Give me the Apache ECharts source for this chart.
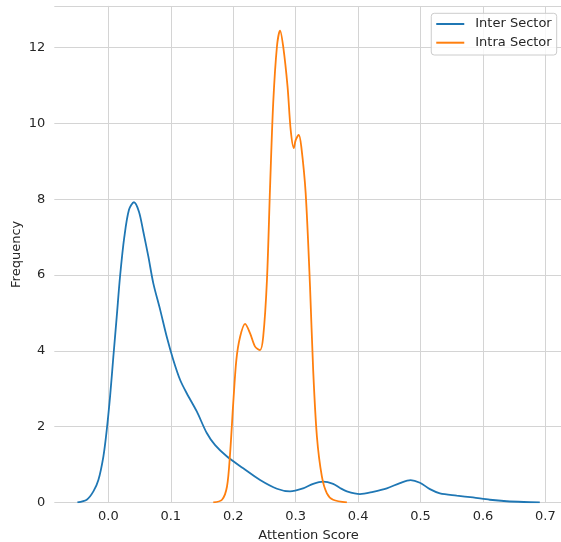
<!DOCTYPE html>
<html>
<head>
<meta charset="utf-8">
<script src="https://cdn.jsdelivr.net/npm/echarts@6/dist/echarts.min.js"></script>
<style>
html,body{margin:0;padding:0;background:#fff;}
#chart{width:561px;height:542px;}
</style>
</head>
<body>
<div id="chart"></div>
<script>
// Series names
var seriesNames = ['Inter Sector', 'Intra Sector'];

// Inter Sector KDE curve (Attention Score, Frequency)
var interX = [-0.0496, -0.0346, -0.024, -0.016, -0.008, -0.0026, 0.0027, 0.008, 0.0134, 0.0187,
  0.0256, 0.033, 0.041, 0.049, 0.056, 0.064, 0.072, 0.083, 0.0935, 0.104,
  0.115, 0.1255, 0.1416, 0.1576, 0.171, 0.19, 0.216, 0.243, 0.27, 0.291,
  0.312, 0.328, 0.344, 0.36, 0.371, 0.382, 0.403, 0.424, 0.446, 0.467,
  0.484, 0.499, 0.515, 0.531, 0.558, 0.584, 0.611, 0.638, 0.665, 0.691];
var interY = [0.0, 0.07, 0.29, 0.59, 1.21, 1.91, 2.79, 3.85, 4.9, 5.96,
  7.01, 7.72, 7.92, 7.67, 7.14, 6.49, 5.78, 5.08, 4.37, 3.76,
  3.23, 2.88, 2.4, 1.83, 1.51, 1.21, 0.9, 0.59, 0.36, 0.29,
  0.37, 0.49, 0.55, 0.49, 0.38, 0.29, 0.22, 0.28, 0.37, 0.51,
  0.59, 0.52, 0.35, 0.24, 0.18, 0.13, 0.07, 0.03, 0.01, 0.0];

// Intra Sector KDE curve
var intraX = [0.168, 0.182, 0.19, 0.195, 0.2, 0.205, 0.211, 0.219, 0.227, 0.235,
  0.243, 0.248, 0.254, 0.259, 0.264, 0.27, 0.275, 0.28, 0.287, 0.292,
  0.297, 0.3, 0.305, 0.309, 0.316, 0.323, 0.328, 0.334, 0.342, 0.35,
  0.36, 0.382];
var intraY = [0.0, 0.07, 0.42, 1.3, 2.62, 3.76, 4.37, 4.71, 4.46, 4.11,
  4.02, 4.37, 5.87, 8.33, 10.53, 12.03, 12.45, 12.03, 10.97, 9.83,
  9.35, 9.56, 9.7, 9.39, 8.16, 5.69, 3.5, 1.74, 0.68, 0.24,
  0.07, 0.0];

// Axis ticks
var xTicks = [0.0, 0.1, 0.2, 0.3, 0.4, 0.5, 0.6, 0.7];
var yTicks = [0, 2, 4, 6, 8, 10, 12];

function pairs(xs, ys) {
  var out = [];
  for (var i = 0; i < xs.length; i++) out.push([xs[i], ys[i]]);
  return out;
}

var textColor = '#262626';
var gridColor = '#d4d4d4';
var font = 'DejaVu Sans';
var lineIcon = 'path://M0,0H28V2H0Z';

var chart = echarts.init(document.getElementById('chart'), null, {renderer: 'canvas'});
chart.setOption({
  animation: false,
  backgroundColor: '#ffffff',
  grid: {left: 54.3, top: 6.3, width: 508.6, height: 496.1, containLabel: false, outerBoundsMode: 'none'},
  legend: {
    orient: 'vertical',
    right: 4.3,
    top: 13.3,
    data: [{name: seriesNames[0], icon: lineIcon}, {name: seriesNames[1], icon: lineIcon}],
    itemWidth: 28,
    itemHeight: 14,
    itemGap: 4.7,
    symbolKeepAspect: true,
    padding: [3.7, 5, 5.3, 5],
    backgroundColor: 'rgba(255,255,255,0.8)',
    borderColor: '#cccccc',
    borderWidth: 1,
    borderRadius: 3,
    textStyle: {color: textColor, fontFamily: font, fontSize: 13, lineHeight: 14, padding: [0, 0, 0, 6]}
  },
  xAxis: {
    type: 'value',
    min: -0.0866,
    max: 0.728,
    name: 'Attention Score',
    nameLocation: 'middle',
    nameGap: 27,
    nameMoveOverlap: false,
    nameTextStyle: {color: textColor, fontFamily: font, fontSize: 13},
    axisLine: {show: false},
    axisTick: {show: false, customValues: xTicks},
    axisLabel: {
      customValues: xTicks,
      color: textColor, fontFamily: font, fontSize: 13, margin: 8,
      formatter: function (v) { return v.toFixed(1); }
    },
    splitLine: {show: true, lineStyle: {color: gridColor, width: 1}}
  },
  yAxis: {
    type: 'value',
    min: 0,
    max: 13.09,
    name: 'Frequency',
    nameLocation: 'middle',
    nameGap: 31,
    nameMoveOverlap: false,
    nameRotate: 90,
    nameTextStyle: {color: textColor, fontFamily: font, fontSize: 13},
    axisLine: {show: true, lineStyle: {color: gridColor, width: 1}},
    axisTick: {show: false, customValues: yTicks.concat([13.09])},
    axisLabel: {
      customValues: yTicks,
      color: textColor, fontFamily: font, fontSize: 13, margin: 9,
      formatter: function (v) { return String(Math.round(v)); }
    },
    splitLine: {show: true, lineStyle: {color: gridColor, width: 1}}
  },
  series: [
    {
      name: seriesNames[0],
      type: 'line',
      data: pairs(interX, interY),
      showSymbol: false,
      symbol: 'none',
      smooth: 0.3,
      lineStyle: {color: '#1f77b4', width: 1.8},
      itemStyle: {color: '#1f77b4'},
      z: 3
    },
    {
      name: seriesNames[1],
      type: 'line',
      data: pairs(intraX, intraY),
      showSymbol: false,
      symbol: 'none',
      smooth: 0.3,
      lineStyle: {color: '#ff7f0e', width: 1.8},
      itemStyle: {color: '#ff7f0e'},
      z: 4
    }
  ]
});
</script>
</body>
</html>
